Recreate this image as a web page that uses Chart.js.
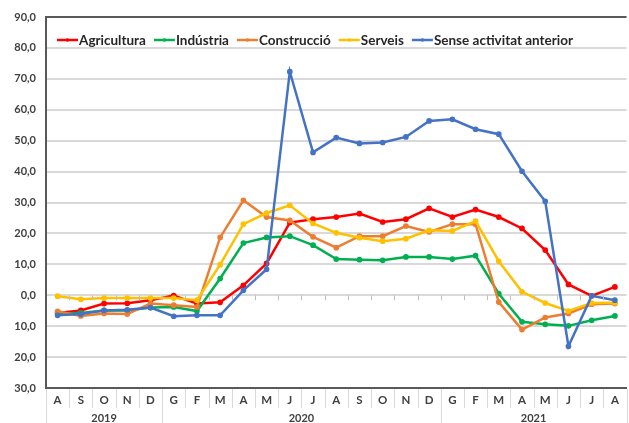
<!DOCTYPE html>
<html>
<head>
<meta charset="utf-8">
<script src="https://cdn.jsdelivr.net/npm/chart.js@4.4.1/dist/chart.umd.min.js"></script>
<style>
  html, body { margin: 0; padding: 0; background: #fff; overflow: hidden; }
  canvas { display: block; }
</style>
</head>
<body>
<canvas id="chart" width="633" height="423"></canvas>
<script>
// months Aug 2019 - Aug 2021
const months = ['A','S','O','N','D','G','F','M','A','M','J','J','A','S','O','N','D','G','F','M','A','M','J','J','A'];
const yearLabels = ['2019', '2020', '2021'];
const yearSpans = [5, 12, 8];

const seriesNames = ['Agricultura', 'Indústria', 'Construcció', 'Serveis', 'Sense activitat anterior'];
const agricultura = [-5.7,-4.9,-2.7,-2.6,-1.6,-0.1,-2.7,-2.3,3.2,10.3,23.5,24.6,25.3,26.4,23.7,24.6,28.1,25.3,27.7,25.3,21.6,14.6,3.5,-0.2,2.7];
const industria = [-6.1,-5.7,-4.9,-4.9,-4.0,-3.8,-5.1,5.4,16.9,18.7,19.1,16.2,11.7,11.5,11.3,12.4,12.4,11.7,12.8,0.5,-8.6,-9.4,-9.9,-8.1,-6.7];
const construccio = [-5.2,-6.7,-5.9,-6.1,-2.7,-3.2,-3.8,18.7,30.7,25.3,24.2,18.9,15.4,19.1,19.1,22.4,20.5,23.0,23.0,-2.2,-11.1,-7.2,-5.9,-2.9,-2.7];
const serveis = [-0.3,-1.3,-0.9,-0.9,-0.9,-0.9,-1.6,9.9,23.0,26.6,29.1,23.2,20.2,18.6,17.5,18.3,21.0,20.8,24.0,11.0,1.1,-2.5,-5.1,-2.5,-2.4];
const senseActivitat = [-6.5,-6.1,-4.9,-4.7,-4.0,-6.8,-6.5,-6.5,1.6,8.4,72.3,46.2,51.0,49.1,49.4,51.2,56.4,56.9,53.7,52.1,40.1,30.4,-16.5,-0.2,-1.6];

const yMin = -30, yMax = 90, yStep = 10;

const colors = ['#ff0000', '#00b050', '#ed7d31', '#ffc000', '#4472c4'];
const allSeries = [agricultura, industria, construccio, serveis, senseActivitat];

const labelFont = 'Lato, "DejaVu Sans", sans-serif';
const textColor = '#404040';

// legend drawn inside the plot area, like the Excel original
const insideLegend = {
  id: 'insideLegend',
  afterDraw(chart) {
    const ctx = chart.ctx;
    let x = chart.chartArea.left + 11;
    const y = chart.chartArea.top + 23;
    ctx.save();
    ctx.font = 'bold 13.5px ' + labelFont;
    ctx.textBaseline = 'middle';
    chart.data.datasets.forEach(ds => {
      ctx.strokeStyle = ds.borderColor;
      ctx.lineWidth = 2.5;
      ctx.beginPath();
      ctx.moveTo(x, y);
      ctx.lineTo(x + 21, y);
      ctx.stroke();
      ctx.fillStyle = ds.borderColor;
      ctx.beginPath();
      ctx.arc(x + 10.5, y, 1.8, 0, Math.PI * 2);
      ctx.fill();
      ctx.fillStyle = '#262626';
      ctx.fillText(ds.label, x + 22, y + 1);
      x += 22 + ctx.measureText(ds.label).width + 8;
    });
    ctx.restore();
  }
};

// month separators, year row and frame
const multiLevelAxis = {
  id: 'multiLevelAxis',
  afterDraw(chart) {
    const ctx = chart.ctx;
    const xs = chart.scales.x;
    const ys = chart.scales.y;
    const area = chart.chartArea;
    const h = chart.height;
    ctx.save();
    // ticks on the zero line
    const y0 = ys.getPixelForValue(0);
    ctx.strokeStyle = '#bfbfbf';
    ctx.lineWidth = 1;
    for (let i = 1; i < months.length; i++) {
      const bx = Math.round(xs.getPixelForValue(i - 0.5)) + 0.5;
      ctx.beginPath();
      ctx.moveTo(bx, y0);
      ctx.lineTo(bx, y0 + 5);
      ctx.stroke();
    }
    // separators below axis
    const yearStarts = [];
    let acc = 0;
    yearSpans.forEach(s => { yearStarts.push(acc); acc += s; });
    yearStarts.push(acc);
    ctx.strokeStyle = '#d9d9d9';
    for (let i = 0; i <= months.length; i++) {
      const bx = Math.round(xs.getPixelForValue(i - 0.5)) + 0.5;
      const isYear = yearStarts.includes(i);
      ctx.beginPath();
      ctx.moveTo(bx, area.bottom + 1);
      ctx.lineTo(bx, isYear ? h : area.bottom + 20);
      ctx.stroke();
    }
    // year labels
    ctx.fillStyle = textColor;
    ctx.font = 'bold 11px ' + labelFont;
    ctx.textAlign = 'center';
    ctx.textBaseline = 'middle';
    yearLabels.forEach((lab, k) => {
      const a = xs.getPixelForValue(yearStarts[k] - 0.5);
      const b = xs.getPixelForValue(yearStarts[k + 1] - 0.5);
      ctx.fillText(lab, (a + b) / 2, area.bottom + 30);
    });
    // top frame line
    ctx.strokeStyle = '#595959';
    ctx.lineWidth = 2;
    ctx.beginPath();
    ctx.moveTo(area.left, area.top);
    ctx.lineTo(area.right, area.top);
    ctx.stroke();
    ctx.restore();
  }
};

new Chart(document.getElementById('chart'), {
  type: 'line',
  data: {
    labels: months,
    datasets: allSeries.map((values, i) => ({
      label: seriesNames[i],
      data: values,
      borderColor: colors[i],
      backgroundColor: colors[i],
      borderWidth: 2.5,
      pointRadius: 1.6,
      pointStyle: 'circle',
      tension: 0,
      order: allSeries.length - i
    }))
  },
  options: {
    responsive: false,
    animation: false,
    devicePixelRatio: 1,
    layout: { padding: { top: 17, left: 0, right: 0, bottom: 0 } },
    plugins: {
      legend: { display: false },
      tooltip: { enabled: false }
    },
    scales: {
      x: {
        offset: true,
        grid: { display: false, drawTicks: false },
        border: { display: true, color: '#595959', width: 2 },
        ticks: {
          autoSkip: false,
          maxRotation: 0,
          padding: 5,
          color: textColor,
          font: { family: labelFont, size: 11.5, weight: 'bold' }
        },
        afterFit(scale) { scale.height = 35; }
      },
      y: {
        min: yMin,
        max: yMax,
        grid: { color: '#d9d9d9', lineWidth: 2, drawTicks: false },
        border: { display: true, color: '#595959', width: 2 },
        ticks: {
          stepSize: yStep,
          padding: 10,
          color: textColor,
          font: { family: labelFont, size: 11, weight: 'bold' },
          callback: v => Math.abs(v).toFixed(1).replace('.', ',')
        },
        afterFit(scale) { scale.width = 46; }
      }
    }
  },
  plugins: [insideLegend, multiLevelAxis]
});
</script>
</body>
</html>
